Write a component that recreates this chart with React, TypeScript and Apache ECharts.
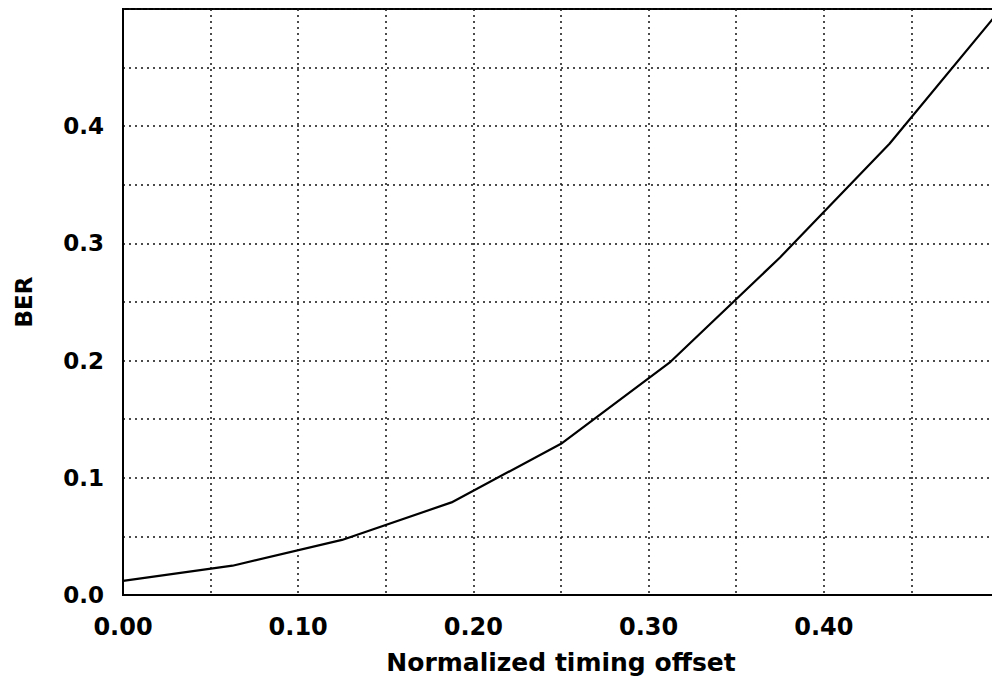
import React, { useEffect, useRef } from "react";
import * as echarts from "echarts";

const offsets = [0, 0.0625, 0.125, 0.1875, 0.25, 0.3125, 0.375, 0.4375, 0.5];
const berValues = [0.012, 0.025, 0.047, 0.079, 0.129, 0.199, 0.288, 0.385, 0.498];
const xTickLabels = ["0.00", "0.10", "0.20", "0.30", "0.40"];
const yTickLabels = ["0.0", "0.1", "0.2", "0.3", "0.4"];

const FONT = "'DejaVu Sans', 'Liberation Sans', sans-serif";

export default function App() {
  const ref = useRef<HTMLDivElement>(null);
  useEffect(() => {
    if (!ref.current) return;
    const chart = echarts.init(ref.current, undefined, { renderer: "svg" });
    const labelStyle = { color: "#000", fontFamily: FONT, fontWeight: "bold" as const, fontSize: 23 };
    const gridLine = { show: true, lineStyle: { color: "#111", width: 1.5, type: [2, 4] as any } };
    chart.setOption({
      animation: false,
      backgroundColor: "#fff",
      grid: { left: 123, top: 9, right: 1, bottom: 76, show: true, borderColor: "#000", borderWidth: 2, backgroundColor: "transparent" },
      xAxis: {
        type: "value",
        min: 0,
        max: 0.5,
        interval: 0.05,
        name: "Normalized timing offset",
        nameLocation: "middle",
        nameGap: 55,
        nameTextStyle: { ...labelStyle, fontSize: 25 },
        axisLine: { show: true, lineStyle: { color: "#000", width: 2 } },
        axisTick: { show: false },
        splitLine: gridLine,
        axisLabel: {
          ...labelStyle,
          fontSize: 24,
          margin: 20,
          showMaxLabel: false,
          formatter: (v: number) => {
            const i = Math.round(v * 100);
            return i % 10 === 0 ? xTickLabels[i / 10] ?? "" : "";
          },
        },
      },
      yAxis: {
        type: "value",
        min: 0,
        max: 0.5,
        interval: 0.05,
        name: "BER",
        nameLocation: "middle",
        nameGap: 88,
        nameRotate: 90,
        nameTextStyle: { ...labelStyle },
        axisLine: { show: true, lineStyle: { color: "#000", width: 2 } },
        axisTick: { show: false },
        splitLine: gridLine,
        axisLabel: {
          ...labelStyle,
          margin: 19,
          formatter: (v: number) => {
            const i = Math.round(v * 100);
            return i % 10 === 0 ? yTickLabels[i / 10] ?? "" : "";
          },
        },
      },
      series: [
        {
          type: "line",
          data: offsets.map((x, i) => [x, berValues[i]]),
          showSymbol: false,
          lineStyle: { color: "#000", width: 2.2 },
          clip: true,
        },
      ],
    });
    return () => chart.dispose();
  }, []);
  return <div ref={ref} style={{ position: "fixed", left: 0, top: 0, width: 1000, height: 680 }} />;
}
